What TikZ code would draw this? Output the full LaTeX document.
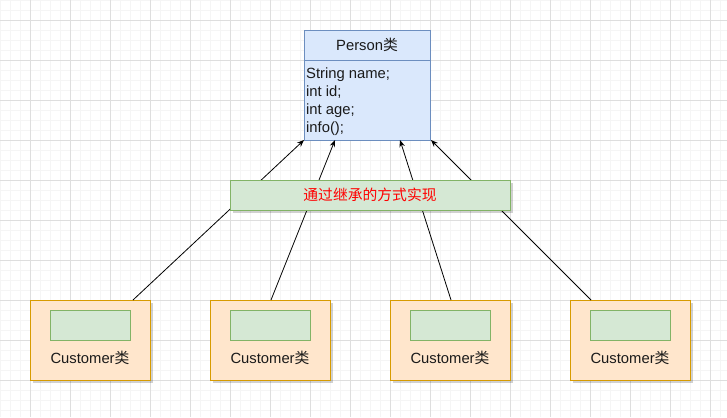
\documentclass[tikz,border=0pt]{standalone}
\usepackage{fontspec}
\setmainfont{Liberation Sans}
\newfontfamily\cjk{Noto Sans CJK SC}
\usetikzlibrary{arrows.meta,shadows}
\definecolor{pfill}{HTML}{DAE8FC}
\definecolor{pline}{HTML}{6C8EBF}
\definecolor{gfill}{HTML}{D5E8D4}
\definecolor{gline}{HTML}{82B366}
\definecolor{ofill}{HTML}{FFE6CC}
\definecolor{oline}{HTML}{D79B00}
\definecolor{minorgrid}{HTML}{F5F5F5}
\definecolor{majorgrid}{HTML}{DEDEDE}
\definecolor{txt}{HTML}{1A1A1A}
\tikzset{
  txtfont/.style={font=\fontsize{14.8}{18}\selectfont, text=txt},
  shade3/.style={drop shadow={shadow xshift=3pt, shadow yshift=-3pt, fill=black, opacity=0.18}},
  custbox/.style={draw=oline, fill=ofill, line width=1pt, minimum width=120pt, minimum height=80pt, inner sep=0pt, shade3},
  innerbox/.style={draw=gline, fill=gfill, line width=0.8pt, minimum width=80pt, minimum height=30pt, inner sep=0pt},
  custlabel/.style={txtfont, inner sep=0pt},
  conn/.style={draw=black, line width=0.8pt, -{Stealth[length=7pt,width=5.5pt]}},
}
\begin{document}
\begin{tikzpicture}[x=1pt,y=-1pt]
\useasboundingbox (0,0) rectangle (727,417);
\fill[white] (0,0) rectangle (727,417);
% grid
\foreach \i in {0,10,...,720} \draw[minorgrid, line width=0.8pt] (\i,0) -- (\i,417);
\foreach \j in {0,10,...,410} \draw[minorgrid, line width=0.8pt] (0,\j) -- (727,\j);
\foreach \i in {30,70,...,720} \draw[majorgrid, line width=0.8pt] (\i,0) -- (\i,417);
\foreach \j in {20,60,...,410} \draw[majorgrid, line width=0.8pt] (0,\j) -- (727,\j);

% Person class
\node[draw=pline, fill=pfill, line width=0.8pt, minimum width=126pt, minimum height=110pt, inner sep=0pt] (person) at (367,85) {};
\draw[pline, line width=0.8pt] (person.west |- 0,60) -- (person.east |- 0,60);
\node[txtfont, inner sep=0pt] (ptitle) at (367,45) {Person{\cjk 类}};
\node[txtfont, inner sep=0pt, anchor=north west, align=left] (pattrs) at (306,68) {String name;\\int id;\\int age;\\info();};

% Customer boxes
\foreach \n/\cx in {1/90,2/270,3/450,4/630}{
  \node[custbox] (c\n) at (\cx,340) {};
  \node[innerbox] (g\n) at (\cx,325) {};
  \node[custlabel] (l\n) at (\cx,358) {Customer{\cjk 类}};
}

% connector endpoints
\coordinate (s1) at (133,300);
\coordinate (s2) at (271,300);
\coordinate (s3) at (451,300);
\coordinate (s4) at (591,300);
\coordinate (t1) at (304,140);
\coordinate (t2) at (335,140);
\coordinate (t3) at (400,140);
\coordinate (t4) at (431,140);
\foreach \k in {1,2,3,4} \draw[conn] (s\k) -- (t\k);

% label
\node[draw=gline, fill=gfill, line width=0.8pt, minimum width=280pt, minimum height=30pt, inner sep=0pt, shade3, font=\cjk\fontsize{14.8}{18}\selectfont, text=red] (label) at (370,195) {通过继承的方式实现};
\end{tikzpicture}
\end{document}
